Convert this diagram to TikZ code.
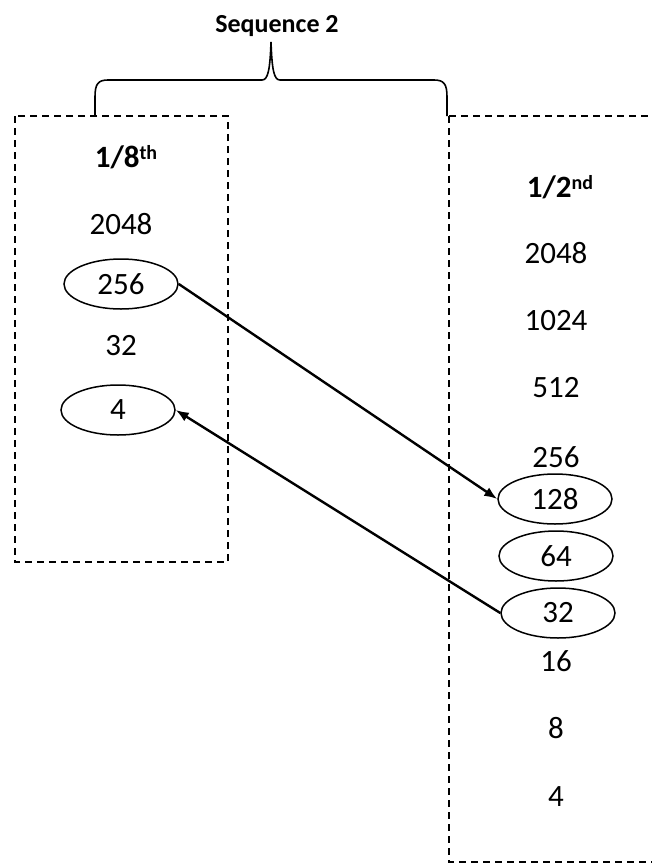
\documentclass[tikz,border=0pt]{standalone}
\usepackage{fontspec}
\setmainfont{Carlito}
\usepackage{tikz}
\usetikzlibrary{positioning, shapes, arrows.meta}
\newcommand{\sups}[1]{\raisebox{0.55ex}{\fontsize{20}{20}\selectfont #1}}
\tikzset{
  num/.style={font=\fontsize{31}{36}\selectfont, inner sep=0pt},
  head/.style={num, font=\fontsize{31}{36}\selectfont\bfseries},
  ring/.style={num, ellipse, draw, line width=1.5pt, minimum width=114pt, minimum height=50pt},
  dashbox/.style={line width=1.6pt, dash pattern=on 7pt off 5pt},
  link/.style={-{Latex[length=13pt,width=10pt]}, line width=2.4pt}}

\begin{document}
\begin{tikzpicture}[x=1pt,y=-1pt]
\useasboundingbox (0,0) rectangle (652,863);
\node [num, font=\fontsize{26}{30}\selectfont\bfseries] (title) at (277,26) {Sequence 2};
% brace
\draw [line width=1.6pt] (95,116) -- (95,97) .. controls (95,84) and (98,80) .. (108,80) -- (262,80) .. controls (268,80) and (270,70) .. (271,42);
\draw [line width=1.6pt] (447,116) -- (447,97) .. controls (447,84) and (444,80) .. (434,80) -- (280,80) .. controls (274,80) and (272,70) .. (271,42);
% boxes
\draw [dashbox] (15,116) rectangle (228,562);
\draw [dashbox] (449,116) -- (652,116);
\draw [dashbox] (449,116) -- (449,862) -- (652,862);
% left column
\node [head] (l0) at (126,157) {1/8\sups{th}};
\node [num] (l1) at (121,224) {2048};
\node [ring] (l2) at (121,284) {256};
\node [num] (l3) at (121,346) {32};
\node [ring] (l4) at (118,410) {4};
% right column
\node [head] (r0) at (560,187) {1/2\sups{nd}};
\node [num] (r1) at (556,253) {2048};
\node [num] (r2) at (556,321) {1024};
\node [num] (r3) at (556,388) {512};
\node [num] (r4) at (556,457) {256};
\node [ring] (r5) at (555,499) {128};
\node [ring] (r6) at (556,556) {64};
\node [ring] (r7) at (558,613) {32};
\node [num] (r8) at (556,661) {16};
\node [num] (r9) at (556,728) {8};
\node [num] (r10) at (556,797) {4};
% arrows
\draw [link] (l2.east) -- (r5.west);
\draw [link] (r7.west) -- (l4.east);
\end{tikzpicture}
\end{document}
